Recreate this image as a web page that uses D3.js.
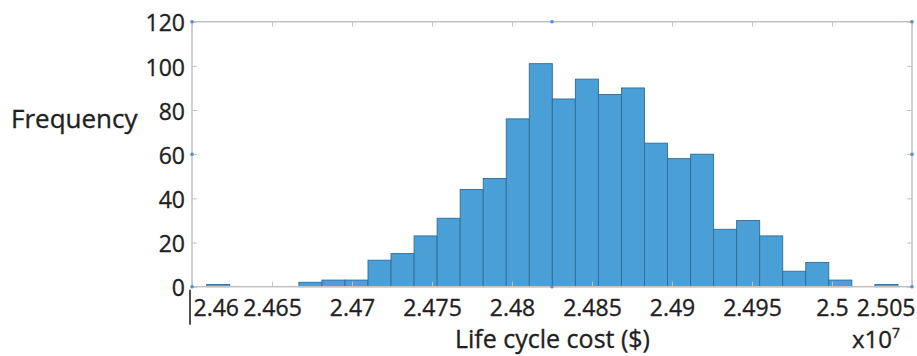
<!DOCTYPE html>
<html>
<head>
<meta charset="utf-8">
<script src="https://cdn.jsdelivr.net/npm/d3@7"></script>
<style>
  body { margin: 0; background: #fff; }
  text { font-family: "Open Sans", sans-serif; fill: #1f1f1f; stroke: #1f1f1f; stroke-width: 0.35px; }
</style>
</head>
<body>
<svg id="chart" width="917" height="356"></svg>
<script>
// Histogram of simulated life cycle cost: 1000 runs in 30 equal bins.
const binStart = 24609200;          // left edge of the first bin ($)
const binWidth = 14400;             // width of each bin ($)
const counts = [1, 0, 0, 0, 2, 3, 3, 12, 15, 23, 31, 44, 49, 76, 101,
                85, 94, 87, 90, 65, 58, 60, 26, 30, 23, 7, 11, 3, 0, 1];
const xTicks = [24600000, 24650000, 24700000, 24750000, 24800000,
                24850000, 24900000, 24950000, 25000000, 25050000];
const xTickLabels = ["2.46", "2.465", "2.47", "2.475", "2.48",
                     "2.485", "2.49", "2.495", "2.5", "2.505"];
const yTicks = [0, 20, 40, 60, 80, 100, 120];
const xDomain = [24600000, 25050000];
const yDomain = [0, 120];

const bins = counts.map((c, i) => ({
  x0: binStart + i * binWidth,
  x1: binStart + (i + 1) * binWidth,
  count: c
}));

const svg = d3.select("#chart");
const plotLeft = 192, plotRight = 912, plotTop = 21.7, plotBottom = 286.7;

const x = d3.scaleLinear().domain(xDomain).range([plotLeft, plotRight]);
const y = d3.scaleLinear().domain(yDomain).range([plotBottom, plotTop]);

const frameColor = "#c2c2c2";
const barFill = "#4a9fd7";
const barEdge = "#2f6c98";
const inkColor = "#1f1f1f";

// bars
svg.append("g")
  .selectAll("rect")
  .data(bins.filter(b => b.count > 0))
  .join("rect")
  .attr("x", d => x(d.x0))
  .attr("width", d => x(d.x1) - x(d.x0))
  .attr("y", d => y(d.count))
  .attr("height", d => y(0) - y(d.count))
  .attr("fill", barFill)
  .attr("stroke", barEdge)
  .attr("stroke-width", 0.9);

// axes with inward ticks
const xLabel = d => xTickLabels[xTicks.indexOf(d)];

const gx = svg.append("g")
  .attr("transform", `translate(0,${plotBottom})`)
  .call(d3.axisBottom(x).tickValues(xTicks).tickFormat(xLabel)
    .tickSize(-5).tickPadding(13));
const gxTop = svg.append("g")
  .attr("transform", `translate(0,${plotTop})`)
  .call(d3.axisTop(x).tickValues(xTicks).tickFormat("").tickSize(-5));
const gy = svg.append("g")
  .attr("transform", `translate(${plotLeft},0)`)
  .call(d3.axisLeft(y).tickValues(yTicks).tickSize(-5).tickPadding(7));
const gyRight = svg.append("g")
  .attr("transform", `translate(${plotRight},0)`)
  .call(d3.axisRight(y).tickValues(yTicks).tickFormat("").tickSize(-5));

[gx, gxTop, gy, gyRight].forEach(g => {
  g.select(".domain").remove();
  g.selectAll(".tick line").attr("stroke", frameColor).attr("stroke-width", 1);
});

gx.selectAll(".tick text")
  .attr("font-size", 23)
  .attr("font-family", "'Open Sans', sans-serif")
  .attr("fill", inkColor);
// keep the end labels inside the frame
gx.selectAll(".tick text")
  .filter(d => d === xTicks[0])
  .attr("text-anchor", "start").attr("dx", 1);
gx.selectAll(".tick text")
  .filter(d => d === xTicks[xTicks.length - 1])
  .attr("text-anchor", "end").attr("dx", 3);

gy.selectAll(".tick text")
  .attr("font-size", 23)
  .attr("font-family", "'Open Sans', sans-serif")
  .attr("fill", inkColor)
  .attr("dy", "0.4em");

// frame
svg.append("rect")
  .attr("x", plotLeft).attr("y", plotTop)
  .attr("width", plotRight - plotLeft).attr("height", plotBottom - plotTop)
  .attr("fill", "none")
  .attr("stroke", frameColor)
  .attr("stroke-width", 1.5);

// selection handles on the frame
const handleX = [plotLeft, (plotLeft + plotRight) / 2, plotRight];
const handleY = [plotTop, (plotTop + plotBottom) / 2, plotBottom];
const handles = [];
handleX.forEach((hx, i) => handleY.forEach((hy, j) => {
  if (!(i === 1 && j === 1)) handles.push([hx, hy]);
}));
svg.append("g")
  .selectAll("circle")
  .data(handles)
  .join("circle")
  .attr("cx", d => d[0]).attr("cy", d => d[1])
  .attr("r", 1.8)
  .attr("fill", "#4a92d8");

// text cursor mark beside the first tick label
svg.append("line")
  .attr("x1", plotLeft - 2).attr("x2", plotLeft - 2)
  .attr("y1", plotBottom + 3).attr("y2", plotBottom + 38)
  .attr("stroke", "#222").attr("stroke-width", 1.6);

// axis titles
svg.append("text")
  .attr("x", 11).attr("y", 128)
  .attr("font-size", 26)
  .text("Frequency");

svg.append("text")
  .attr("x", 455).attr("y", 348)
  .attr("font-size", 25)
  .text("Life cycle cost ($)");

const mult = svg.append("text")
  .attr("x", 852).attr("y", 348)
  .attr("font-size", 24);
mult.append("tspan").text("x10");
mult.append("tspan").attr("font-size", 14).attr("dy", -10).text("7");
</script>
</body>
</html>
